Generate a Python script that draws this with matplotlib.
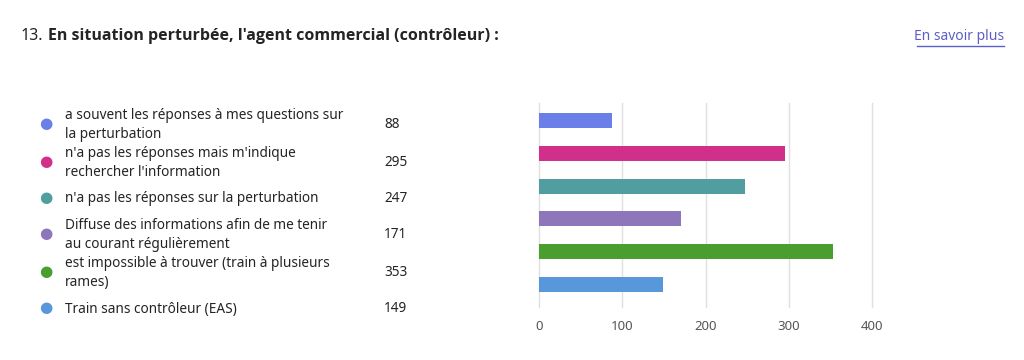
import matplotlib.pyplot as plt

plt.rcParams['font.family'] = ['Noto Sans', 'DejaVu Sans']

# Données de la question 13
reponses = [
    "a souvent les réponses à mes questions sur\nla perturbation",
    "n'a pas les réponses mais m'indique\nrechercher l'information",
    "n'a pas les réponses sur la perturbation",
    "Diffuse des informations afin de me tenir\nau courant régulièrement",
    "est impossible à trouver (train à plusieurs\nrames)",
    "Train sans contrôleur (EAS)",
]
nombres = [88, 295, 247, 171, 353, 149]
couleurs = ['#6b7fe8', '#d0308a', '#509e9f', '#8e76ba', '#4a9d2f', '#5797da']
graduations = [0, 100, 200, 300, 400]

W, H = 1024, 360
fig = plt.figure(figsize=(W / 100, H / 100), dpi=100)


def px(x, y):
    return x / W, 1 - y / H


# Titre
fig.text(*px(21, 36), "13.", fontsize=11.5, color='#242424', va='center')
fig.text(*px(48, 36), "En situation perturbée, l'agent commercial (contrôleur) :",
         fontsize=11.5, color='#242424', va='center', fontweight='bold',
         family=['Open Sans', 'DejaVu Sans'])
fig.text(*px(1004, 37), "En savoir plus", fontsize=10, color='#5b5fc7',
         va='center', ha='right')
fig.add_artist(plt.Line2D([917 / W, 1004 / W], [1 - 46 / H, 1 - 46 / H],
                          color='#5b5fc7', lw=1))

# Légende à gauche
lignes_y = [125, 163, 199, 235, 273, 309]
for rep, n, c, y in zip(reponses, nombres, couleurs, lignes_y):
    fig.text(*px(46, y), "●", fontsize=11, color=c, va='center', ha='center')
    fig.text(*px(65, y), rep, fontsize=9.8, color='#242424', va='center',
             linespacing=1.3)
    fig.text(*px(384, y), str(n), fontsize=9.8, color='#242424', va='center')

# Graphique à barres
ax = fig.add_axes([539 / W, 1 - 307 / H, (872 - 539) / W, (307 - 103) / H])
pos = list(range(len(nombres)))
ax.barh(pos, nombres, height=0.46, color=couleurs, zorder=3)
ax.set_xlim(0, 400)
ax.set_ylim(5.7, -0.55)
ax.set_xticks(graduations)
ax.set_yticks([])
ax.grid(axis='x', color='#e0e0e0', lw=1, zorder=0)
for gl in ax.get_xgridlines():
    gl.set_clip_on(False)
for s in ax.spines.values():
    s.set_visible(False)
ax.tick_params(axis='x', length=0, pad=9, labelsize=9.5, labelcolor='#555555')

fig.savefig('out.png', dpi=100, facecolor='white')
